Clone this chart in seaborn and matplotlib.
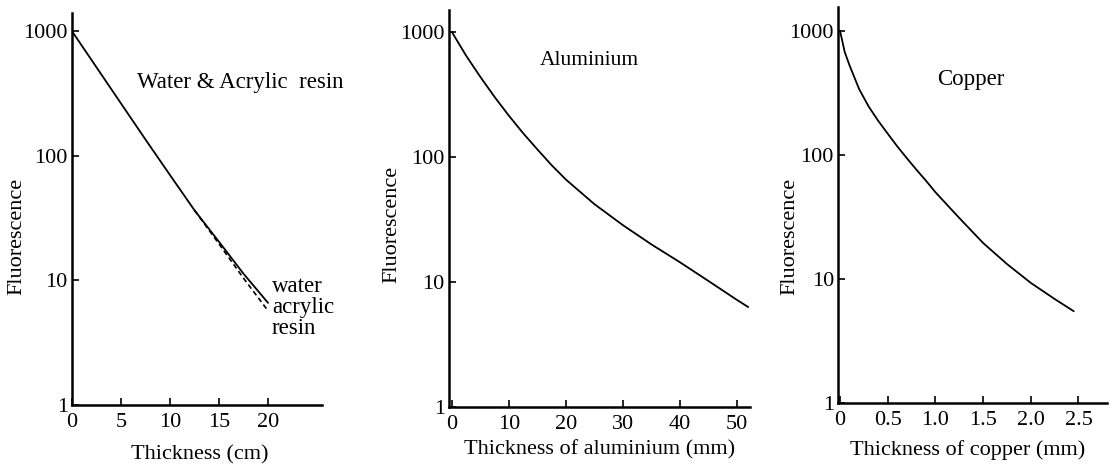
import numpy as np
import pandas as pd
import matplotlib
matplotlib.use('Agg')
import matplotlib.pyplot as plt
import seaborn as sns

# values
water_x = [0, 2.5, 5, 7.5, 10, 12.5, 15, 17.5, 20]
water_y = [1000, 513, 263, 135, 70, 36.5, 20.4, 11.3, 6.6]
acrylic_x = [12.5, 15, 17.5, 20]
acrylic_y = [36.5, 19.6, 10.4, 5.7]

alu_x = [0, 2.5, 5, 7.5, 10, 12.5, 15, 17.5, 20, 25, 30, 35, 40, 45, 50, 52]
alu_y = [1000, 646, 437, 302, 214, 155, 115, 86, 66, 42, 28.5, 20, 14.4, 10.2, 7.2, 6.3]

cu_x = [0, 0.05, 0.1, 0.2, 0.3, 0.4, 0.5, 0.6, 0.7, 0.8, 0.9, 1.0, 1.25, 1.5, 1.75, 2.0, 2.25, 2.45]
cu_y = [1000, 670, 525, 339, 245, 188, 148, 117, 94, 76, 62, 50, 31, 19.5, 13.2, 9.3, 6.9, 5.5]

y_ticks = [1, 10, 100, 1000]
water_xticks = [0, 5, 10, 15, 20]
alu_xticks = [0, 10, 20, 30, 40, 50]
cu_xticks = [0, 0.5, 1.0, 1.5, 2.0, 2.5]
cu_xticklabels = ['0', '0.5', '1.0', '1.5', '2.0', '2.5']

sns.set_theme(style='ticks')
plt.rcParams['font.family'] = ['Liberation Serif', 'DejaVu Serif']
plt.rcParams['text.color'] = 'black'
plt.rcParams['axes.labelcolor'] = 'black'

fig = plt.figure(figsize=(11.13, 4.65), dpi=100)
ax1 = fig.add_axes([0.0647, 0.129, 0.2246, 0.843])
ax2 = fig.add_axes([0.4034, 0.1247, 0.2704, 0.854])
ax3 = fig.add_axes([0.753, 0.133, 0.2417, 0.852])

sns.lineplot(x=water_x, y=water_y, ax=ax1, color='black', lw=1.3)
sns.lineplot(x=acrylic_x, y=acrylic_y, ax=ax1, color='black', lw=1.2, linestyle=(0, (3, 2)))
sns.lineplot(x=alu_x, y=alu_y, ax=ax2, color='black', lw=1.3)
sns.lineplot(x=cu_x, y=cu_y, ax=ax3, color='black', lw=1.3)

def style_axis(ax, xlim, ytop, xticks, xlabel, ylab_pos, xlab_pos, xticklabels=None):
    ax.set_yscale('log')
    ax.set_ylim(1, ytop)
    ax.set_xlim(*xlim)
    ax.set_yticks(y_ticks)
    ax.set_yticklabels([str(t) for t in y_ticks])
    ax.minorticks_off()
    ax.set_xticks(xticks)
    if xticklabels is not None:
        ax.set_xticklabels(xticklabels)
    ax.tick_params(direction='in', length=5, width=1.2, labelsize=16, colors='black')
    ax.tick_params(axis='y', pad=3)
    ax.tick_params(axis='x', pad=6)
    for s in ['top', 'right']:
        ax.spines[s].set_visible(False)
    for s in ['left', 'bottom']:
        ax.spines[s].set_linewidth(1.8)
        ax.spines[s].set_color('black')
    ax.set_ylabel('Fluorescence', fontsize=16, va='center')
    ax.set_xlabel(xlabel, fontsize=16, va='center')
    ax.yaxis.set_label_coords(*ylab_pos)
    ax.xaxis.set_label_coords(*xlab_pos)

style_axis(ax1, (0, 25.5), 1400, water_xticks, 'Thickness (cm)', (-0.22, 0.43), (0.512, -0.128))
style_axis(ax2, (-0.5, 52.3), 1500, alu_xticks, 'Thickness of aluminium (mm)', (-0.19, 0.46), (0.50, -0.108))
style_axis(ax3, (-0.02, 2.8), 1550, cu_xticks, 'Thickness of copper (mm)', (-0.178, 0.42), (0.48, -0.119),
           cu_xticklabels)

ax1.text(6.6, 390, 'Water & Acrylic  resin', fontsize=16.5, va='center', ha='left', clip_on=False)
ax1.text(20.4, 10.8, 'water\nacrylic\nresin', fontsize=16.5, va='top', ha='left', linespacing=0.98, clip_on=False)
ax2.text(24.1, 590, 'Aluminium', fontsize=15.5, va='center', ha='center')
ax3.text(1.37, 405, 'Copper', fontsize=16.5, va='center', ha='center')

fig.savefig('out.png', dpi=100)
